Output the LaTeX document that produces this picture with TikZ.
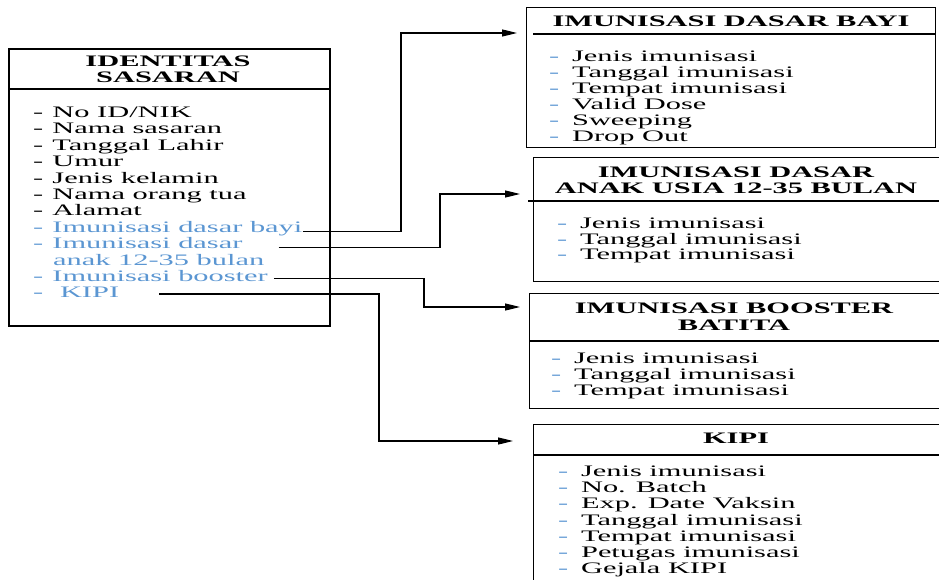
\documentclass[tikz,border=0pt]{standalone}
\usepackage{fontspec}
\setmainfont{Liberation Serif}
\usetikzlibrary{arrows.meta}
\definecolor{itemblue}{RGB}{91,150,210}
\newcommand{\wide}[1]{\scalebox{1.9}[1]{#1}}
\newcommand{\bul}{\textcolor{itemblue}{-}\hspace{0.42em}}
\tikzset{
  panel/.style={draw, line width=1.3pt, anchor=north west, inner sep=0pt},
  title/.style={anchor=base, inner sep=0pt, font=\fontsize{16}{16}\selectfont\bfseries},
  item/.style={anchor=base west, inner sep=0pt, font=\fontsize{16}{16}\selectfont},
  link/.style={line width=1.2pt, -{Triangle[length=15pt,width=7pt]}},
}
\begin{document}
\begin{tikzpicture}[x=1pt,y=-1pt]
\path[use as bounding box, clip] (0,0) rectangle (939,580);

% identitas sasaran
\node[panel, line width=1.6pt, minimum width=321pt, minimum height=277pt] (ids) at (8,48) {};
\draw[line width=1.3pt] (8,89) -- (329,89);
\node[title] (ids-t1) at (168,67) {\wide{IDENTITAS}};
\node[title] (ids-t2) at (168,83) {\wide{SASARAN}};
\foreach \txt [count=\i] in {No ID/NIK, Nama sasaran, Tanggal Lahir, Umur, Jenis kelamin, Nama orang tua, Alamat}
  \node[item] (ids-\i) at (33,{117.5+16.4*(\i-1)}) {\wide{-\hspace{0.3em}\txt}};
\node[item, text=itemblue] (ids-bayi) at (33,232.3) {\wide{-\hspace{0.3em}Imunisasi dasar bayi}};
\node[item, text=itemblue] (ids-dasar) at (33,248.7) {\wide{-\hspace{0.3em}Imunisasi dasar}};
\node[item, text=itemblue] (ids-anak) at (53,265.1) {\wide{anak 12-35 bulan}};
\node[item, text=itemblue] (ids-booster) at (33,281.5) {\wide{-\hspace{0.3em}Imunisasi booster}};
\node[item, text=itemblue] (ids-kipi) at (33,297.9) {\wide{-\hspace{0.55em}KIPI}};

% imunisasi dasar bayi
\node[panel, minimum width=409pt, minimum height=140pt] (bayi) at (526,7) {};
\draw[line width=1.3pt] (533,34) -- (935,34);
\node[title] (bayi-t) at (731,27) {\wide{IMUNISASI DASAR BAYI}};
\foreach \txt [count=\i] in {Jenis imunisasi, Tanggal imunisasi, Tempat imunisasi, Valid Dose, Sweeping, Drop Out}
  \node[item] (bayi-\i) at (549,{62+16*(\i-1)}) {\wide{\bul\txt}};

% imunisasi dasar anak
\node[panel, minimum width=408pt, minimum height=124pt] (dasar) at (533,157) {};
\draw[line width=1.3pt] (528,201) -- (941,201);
\node[title] (dasar-t1) at (736,177.5) {\wide{IMUNISASI DASAR}};
\node[title] (dasar-t2) at (736,193.5) {\wide{ANAK USIA 12-35 BULAN}};
\foreach \txt [count=\i] in {Jenis imunisasi, Tanggal imunisasi, Tempat imunisasi}
  \node[item] (dasar-\i) at (557,{228.5+15.5*(\i-1)}) {\wide{\bul\txt}};

% imunisasi booster
\node[panel, minimum width=412pt, minimum height=115pt] (booster) at (529,293) {};
\draw[line width=1.3pt] (529,341) -- (941,341);
\node[title] (booster-t1) at (734,313) {\wide{IMUNISASI BOOSTER}};
\node[title] (booster-t2) at (734,330) {\wide{BATITA}};
\foreach \txt [count=\i] in {Jenis imunisasi, Tanggal imunisasi, Tempat imunisasi}
  \node[item] (booster-\i) at (551,{363.5+16*(\i-1)}) {\wide{\bul\txt}};

% kipi
\node[panel, minimum width=408pt, minimum height=176pt] (kipi) at (533,424) {};
\draw[line width=1.3pt] (533,455) -- (941,455);
\node[title] (kipi-t) at (736,443) {\wide{KIPI}};
\foreach \txt [count=\i] in {Jenis imunisasi, No. Batch, Exp. Date Vaksin, Tanggal imunisasi, Tempat imunisasi, Petugas imunisasi, Gejala KIPI}
  \node[item] (kipi-\i) at (558,{476.5+16.2*(\i-1)}) {\wide{\bul\txt}};

% connectors
\draw[link, shorten >=9pt] ([yshift=1pt]ids-bayi.base east) -| (401,33) -- ([yshift=-26pt]bayi.north west);
\draw[link, shorten >=13pt] ([xshift=36pt,yshift=1.5pt]ids-dasar.base east) -| (440,194) -- ([yshift=-37pt]dasar.north west);
\draw[link, shorten >=9pt] ([xshift=6pt,yshift=3pt]ids-booster.base east) -| (424,307) -- ([yshift=-14pt]booster.north west);
\draw[link, shorten >=20pt] ([xshift=40pt,yshift=4pt]ids-kipi.base east) -| (379,441) -- ([yshift=-17pt]kipi.north west);
\end{tikzpicture}
\end{document}
